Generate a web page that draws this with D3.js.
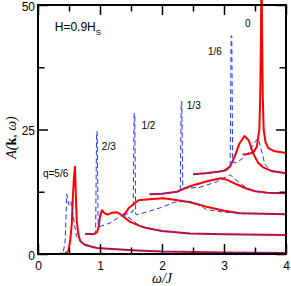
<!DOCTYPE html>
<html>
<head>
<meta charset="utf-8">
<script src="https://cdn.jsdelivr.net/npm/d3@7"></script>
<style>
  body { margin: 0; background: #fff; }
  svg { display: block; }
  .axis text { font-family: "Liberation Sans", Arial, sans-serif; font-size: 12px; fill: #000; }
  .axis path { display: none; }
  .axis line { stroke: #000; stroke-width: 1.5px; }
  .lbl { font-family: "Liberation Sans", Arial, sans-serif; font-size: 10px; }
  .title { font-family: "Liberation Serif", "Times New Roman", serif; font-style: italic; font-size: 14px; }
</style>
</head>
<body>
<div id="chart"></div>
<script>
/*
** Data: [omega/J, A(k,w)] with the vertical offsets included
*/
var qLabels = ["q=5/6", "2/3", "1/2", "1/3", "1/6", "0"];

var red56 = [[0.30,0],[0.44,0.1],[0.49,0.6],[0.52,2.8],[0.545,6],[0.56,10.8],[0.58,15.5],[0.597,17.5],
             [0.61,12],[0.624,6.8],[0.65,4],[0.68,2.6],[0.75,1.9],[0.85,1.5],[0.95,1.2],[1.2,1.0],
             [1.6,0.7],[2.0,0.5],[3.0,0.3],[4.0,0.2]];
var blue56 = [[0.30,0],[0.38,0.1],[0.41,0.5],[0.44,2.8],[0.45,7],[0.463,12],[0.5,9.8],[0.53,10.5],
              [0.57,7.5],[0.62,3.5],[0.7,2.3],[0.73,1.8],[0.85,1.5],[1.0,1.2],[1.2,1.0],[1.6,0.7],
              [2.0,0.5],[3.0,0.3],[4.0,0.2]];

var red23 = [[0.76,4.0],[0.9,4.0],[0.95,4.3],[0.98,5.5],[1.0,7.5],[1.03,8.8],[1.07,8.2],[1.12,7.9],
             [1.2,8.3],[1.27,8.4],[1.35,7.8],[1.48,6.5],[1.65,5.6],[1.75,5.2],[2.0,4.6],[2.45,4.1],
             [3.0,3.95],[4.0,3.8]];
var blue23 = [[0.76,4.0],[0.92,4.1],[0.93,5],[0.945,24.6],[0.955,24.6],[0.97,6],[0.99,5.5],[1.16,6.2],
              [1.32,7.5],[1.4,7.8],[1.5,7.0],[1.59,6.1],[1.75,5.2],[2.0,4.6],[2.45,4.1],[3.0,3.95],[4.0,3.8]];

var red12 = [[1.37,7.8],[1.42,8.4],[1.46,9.2],[1.52,9.8],[1.62,10.8],[1.8,11.0],[2.02,11.2],
             [2.2,10.9],[2.45,10.4],[2.72,9.5],[3.0,8.7],[3.26,8.2],[4.0,8.0]];
var blue12 = [[1.37,7.8],[1.47,8.2],[1.535,8.6],[1.55,28.2],[1.56,28.2],[1.575,8.0],[1.6,7.9],[1.8,8.6],
              [2.0,9.4],[2.2,10.4],[2.42,10.6],[2.55,10.2],[2.72,8.9],[3.0,8.4],[3.26,8.2],[4.0,8.0]];

var red13 = [[1.8,12.0],[2.0,12.1],[2.24,12.5],[2.45,13.6],[2.7,14.5],[2.83,14.9],[2.95,15.2],
             [3.05,14.9],[3.2,14.0],[3.35,13.2],[3.5,12.6],[3.7,12.3],[4.0,12.2]];
var blue13 = [[1.8,12.0],[2.1,12.2],[2.295,12.6],[2.31,30.6],[2.32,30.6],[2.335,13.2],[2.4,13.2],[2.61,13.4],
              [2.88,14.5],[3.0,15.3],[3.1,15.9],[3.23,14.5],[3.37,13.2],[3.5,12.6],[3.7,12.3],[4.0,12.2]];

var red16 = [[2.5,16.0],[2.7,16.2],[2.9,16.5],[3.0,16.7],[3.1,17.6],[3.17,19.5],[3.25,22.2],
             [3.33,23.7],[3.4,22.8],[3.47,20.2],[3.55,18.3],[3.63,17.4],[3.78,16.6],[4.0,16.2]];
var blue16 = [[2.5,16.0],[2.8,16.3],[3.05,16.8],[3.1,17.5],[3.115,43.8],[3.125,43.8],[3.14,18.5],[3.2,18.3],
              [3.3,19.2],[3.4,20.5],[3.5,22.5],[3.55,23.2],[3.6,21],[3.66,18],[3.75,16.8],[4.0,16.2]];

var red0 = [[3.3,20.0],[3.4,20.1],[3.48,20.5],[3.53,21.6],[3.57,25],[3.585,32],[3.597,45],[3.605,60],
            [3.613,45],[3.625,32],[3.64,25],[3.67,22.4],[3.72,21.2],[3.8,20.7],[4.0,20.3]];

var xMajor = [0, 1, 2, 3, 4]
  , xMinor = [0.5, 1.5, 2.5, 3.5]
  , yMajor = [0, 25, 50]
  , yMinor = [12.5, 37.5]
;

// where the q labels sit, in data units
var labelAt = [[0.08,15.4],[1.03,20.8],[1.67,25.2],[2.4,29.2],[2.74,39.9],[3.34,45.6]];

var series = [
    {q: qLabels[0], red: red56, blue: blue56}
  , {q: qLabels[1], red: red23, blue: blue23}
  , {q: qLabels[2], red: red12, blue: blue12}
  , {q: qLabels[3], red: red13, blue: blue13}
  , {q: qLabels[4], red: red16, blue: blue16}
  , {q: qLabels[5], red: red0,  blue: null}
];

/*
** Layout
*/
var W = 291, H = 286
  , padding = {top: 5, right: 5, bottom: 32, left: 38}
  , width = W - padding.left - padding.right
  , height = H - padding.top - padding.bottom
  , x = d3.scaleLinear().domain([0, 4]).range([0, width])
  , y = d3.scaleLinear().domain([0, 50]).range([height, 0])
  , line = d3.line()
        .x(function(d) { return x(d[0]); })
        .y(function(d) { return y(d[1]); })
;

var svg = d3.select("#chart").append("svg")
    .attr("width", W)
    .attr("height", H)
;
var canvas = svg.append("g")
    .attr("transform", "translate(" + padding.left + "," + padding.top + ")")
;

// curves: red solid first, blue dashed on top
series.forEach(function(s) {
    canvas.append("path")
        .datum(s.red)
        .attr("d", line)
        .attr("fill", "none")
        .attr("stroke", "#ff0000")
        .attr("stroke-width", 2)
        .attr("stroke-linejoin", "round")
    ;
    if (s.blue) {
        canvas.append("path")
            .datum(s.blue)
            .attr("d", line)
            .attr("fill", "none")
            .attr("stroke", "#2233ff")
            .attr("stroke-width", 1)
            .attr("stroke-dasharray", "5,3")
        ;
    }
});

/*
** Axes (ticks point inward, mirrored on top and right)
*/
function addAxis(axis, cls, tr) {
    return canvas.append("g")
        .attr("class", "axis " + cls)
        .attr("transform", tr)
        .call(axis)
    ;
}
addAxis(d3.axisBottom(x).tickValues(xMajor).tickFormat(d3.format("d"))
    .tickSizeInner(-10).tickSizeOuter(0).tickPadding(7), "x", "translate(0," + height + ")");
addAxis(d3.axisBottom(x).tickValues(xMinor).tickFormat("")
    .tickSizeInner(-6.5).tickSizeOuter(0), "x-minor", "translate(0," + height + ")");
addAxis(d3.axisTop(x).tickValues(xMajor).tickFormat("")
    .tickSizeInner(-10).tickSizeOuter(0), "x-top", "translate(0,0)");
addAxis(d3.axisTop(x).tickValues(xMinor).tickFormat("")
    .tickSizeInner(-6.5).tickSizeOuter(0), "x-top-minor", "translate(0,0)");

addAxis(d3.axisLeft(y).tickValues(yMajor).tickFormat(d3.format("d"))
    .tickSizeInner(-10).tickSizeOuter(0).tickPadding(3), "y", "translate(0,0)")
  .selectAll(".tick text")
    .attr("dy", "0.42em")   // nudge down a bit, keeps "50" inside the page
;
addAxis(d3.axisLeft(y).tickValues(yMinor).tickFormat("")
    .tickSizeInner(-6.5).tickSizeOuter(0), "y-minor", "translate(0,0)");
addAxis(d3.axisRight(y).tickValues(yMajor).tickFormat("")
    .tickSizeInner(-10).tickSizeOuter(0), "y-right", "translate(" + width + ",0)");
addAxis(d3.axisRight(y).tickValues(yMinor).tickFormat("")
    .tickSizeInner(-6.5).tickSizeOuter(0), "y-right-minor", "translate(" + width + ",0)");

// frame
canvas.append("rect")
    .attr("width", width)
    .attr("height", height)
    .attr("fill", "none")
    .attr("stroke", "#000")
    .attr("stroke-width", 2)
;

/*
** Labels
*/
canvas.selectAll(".lbl")
    .data(series)
  .enter().append("text")
    .attr("class", "lbl")
    .attr("x", function(d, i) { return x(labelAt[i][0]); })
    .attr("y", function(d, i) { return y(labelAt[i][1]); })
    .text(function(d) { return d.q; })
;

var hTxt = canvas.append("text")
    .attr("x", x(0.27))
    .attr("y", y(44.8))
    .style("font-family", "'Liberation Sans', Arial, sans-serif")
    .style("font-size", "12px")
;
hTxt.append("tspan").text("H=0.9H");
hTxt.append("tspan").attr("dy", 4).style("font-size", "8px").text("S");

svg.append("text")
    .attr("class", "title")
    .attr("x", padding.left + x(2))
    .attr("y", H - 3)
    .attr("text-anchor", "middle")
    .text("\u03c9/J")
;

var yl = svg.append("text")
    .attr("class", "title")
    .attr("transform", "translate(16," + (padding.top + height / 2 + 8) + ") rotate(-90)")
    .attr("text-anchor", "middle")
;
yl.append("tspan").text("A(");
yl.append("tspan").style("font-style", "normal").style("font-weight", "bold").text("k");
yl.append("tspan").text(", \u03c9)");
</script>
</body>
</html>
